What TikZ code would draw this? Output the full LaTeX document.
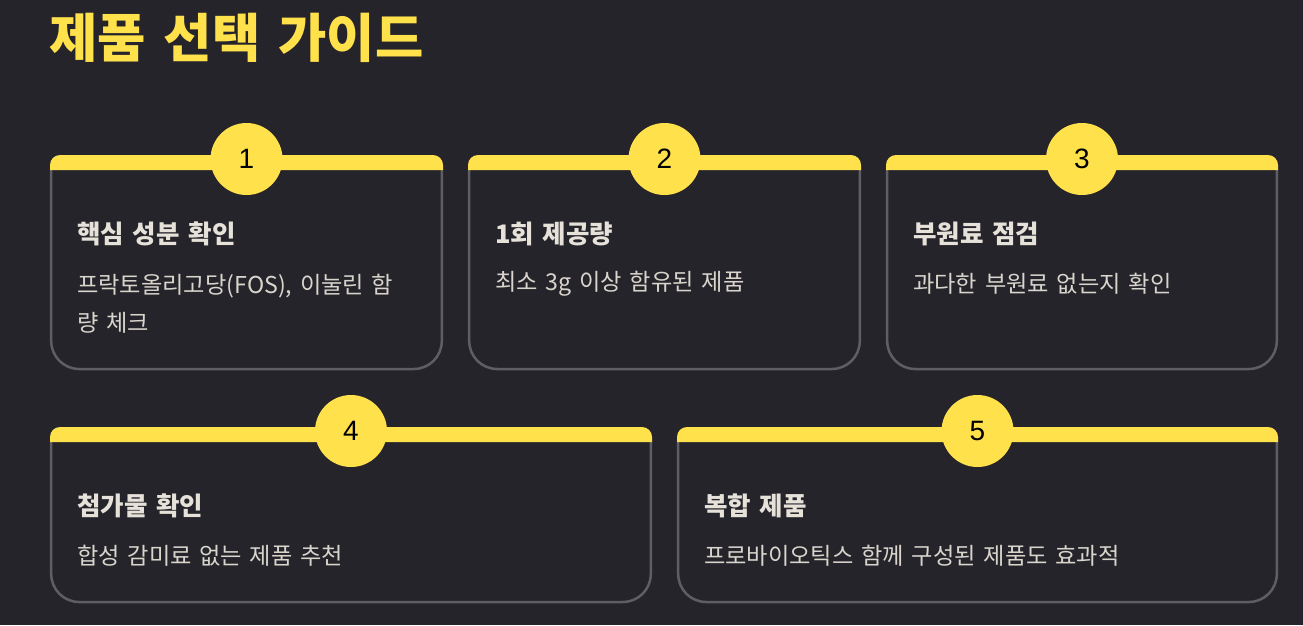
\documentclass[tikz,border=0pt]{standalone}
\usepackage{fontspec}
\setmainfont{Noto Sans CJK KR}[WordSpace=1.5]
\newfontfamily\numfont{Liberation Sans}
\definecolor{bg}{HTML}{25242A}
\definecolor{ylw}{HTML}{FFE14B}
\definecolor{brd}{HTML}{5F5E63}
\definecolor{ttl}{HTML}{E6E2DA}
\definecolor{bdy}{HTML}{D9D5CD}
\tikzset{
  bar/.style={fill=ylw},
  border/.style={draw=brd, line width=2.5pt},
  badge/.style={circle, fill=ylw, minimum size=72pt, inner sep=0pt, text=black,
    font=\numfont\fontsize{28}{28}\selectfont},
  cardtitle/.style={anchor=west, text=ttl, inner sep=0pt,
    font=\bfseries\fontsize{25.5}{29}\selectfont},
  cardbody/.style={anchor=west, text=bdy, inner sep=0pt, align=left,
    font=\fontsize{23.2}{38}\selectfont},
  maintitle/.style={anchor=west, text=ylw, inner sep=0pt,
    font=\bfseries\fontsize{52.5}{56}\selectfont},
}
% #1 name, #2 x1, #3 x2, #4 top, #5 bottom, #6 number, #7 title, #8 body, #9 body centre offset
\newcommand\mycard[9]{%
  \draw[border] ({#2+1.2},{#4+14}) {[rounded corners=28pt] -- ({#2+1.2},{#5}) -- ({#3-1.2},{#5})} -- ({#3-1.2},{#4+14});
  \fill[bar] (#2,{#4+15}) {[rounded corners=10pt] -- (#2,#4) -- (#3,#4)} -- (#3,{#4+15}) -- cycle;
  \node[badge] (#1num) at ({(#2+#3)/2},{#4+4}) {#6};
  \node[cardtitle] (#1title) at ({#2+27},{#4+79}) {#7};
  \node[cardbody] (#1body) at ({#2+27},{#4+#9}) {#8};
}
\begin{document}
\begin{tikzpicture}[x=1pt,y=-1pt]
  \fill[bg] (0,0) rectangle (1303,625);
  \useasboundingbox (0,0) rectangle (1303,625);
  \node[maintitle] (title) at (49,38) {제품 선택 가이드};
  \mycard{c1}{50}{443}{155}{369}{1}{핵심 성분 확인}{프락토올리고당(FOS), 이눌린 함\\량 체크}{149}
  \mycard{c2}{468}{861}{155}{369}{2}{1회 제공량}{최소 3g 이상 함유된 제품}{129}
  \mycard{c3}{886}{1278}{155}{369}{3}{부원료 점검}{과다한 부원료 없는지 확인}{129}
  \mycard{c4}{50}{652}{427}{602}{4}{첨가물 확인}{합성 감미료 없는 제품 추천}{129}
  \mycard{c5}{677}{1278}{427}{602}{5}{복합 제품}{프로바이오틱스 함께 구성된 제품도 효과적}{129}
\end{tikzpicture}
\end{document}
